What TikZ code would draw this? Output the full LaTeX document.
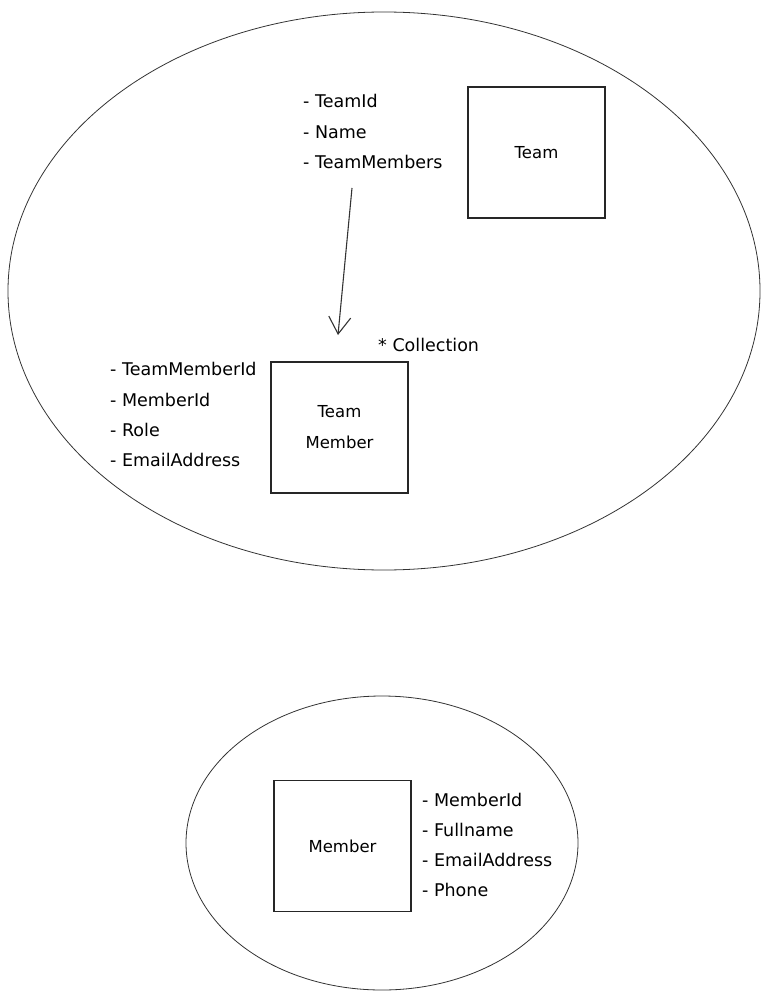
\documentclass[tikz,border=0pt]{standalone}
\usepackage{fontspec}
\setmainfont{DejaVu Sans}
\usetikzlibrary{arrows.meta}
\begin{document}
\begin{tikzpicture}[x=1pt,y=-1pt,
  entity/.style={draw=black!85,line width=1.4pt,minimum width=137pt,minimum height=131pt,inner sep=0pt,align=center,font=\fontsize{16.5}{31}\selectfont},
  attr/.style={anchor=west,inner sep=0pt,font=\fontsize{17.5}{18}\selectfont},
  boundary/.style={draw=black!80,line width=0.8pt},
  link/.style={draw=black!80,line width=1.1pt,-{Straight Barb[length=17pt,width=22pt,line width=1.1pt]}}]
\useasboundingbox (0,0) rectangle (768,1000);
% bounded contexts
\draw[boundary] (384,291) ellipse [x radius=376, y radius=279];
\draw[boundary] (382,843) ellipse [x radius=196, y radius=147];
% Team
\node[entity] (team) at (536.5,152.5) {Team};
\node[attr] (t1) at (303,101) {- TeamId};
\node[attr] (t2) at (303,132) {- Name};
\node[attr] (t3) at (303,162) {- TeamMembers};
% TeamMember
\node[entity] (tm) at (339.5,427.5) {Team\\Member};
\node[attr] (m1) at (110,369) {- TeamMemberId};
\node[attr] (m2) at (110,400) {- MemberId};
\node[attr] (m3) at (110,430) {- Role};
\node[attr] (m4) at (110,460) {- EmailAddress};
\node[attr] (coll) at (378,345) {* Collection};
% arrow
\coordinate (arrS) at (352,188);
\coordinate (arrE) at (338,335);
\draw[link] (arrS) -- (arrE);
% Member
\node[entity] (mem) at (342.5,846) {Member};
\node[attr] (b1) at (422,800) {- MemberId};
\node[attr] (b2) at (422,830) {- Fullname};
\node[attr] (b3) at (422,860) {- EmailAddress};
\node[attr] (b4) at (422,890) {- Phone};
\end{tikzpicture}
\end{document}
